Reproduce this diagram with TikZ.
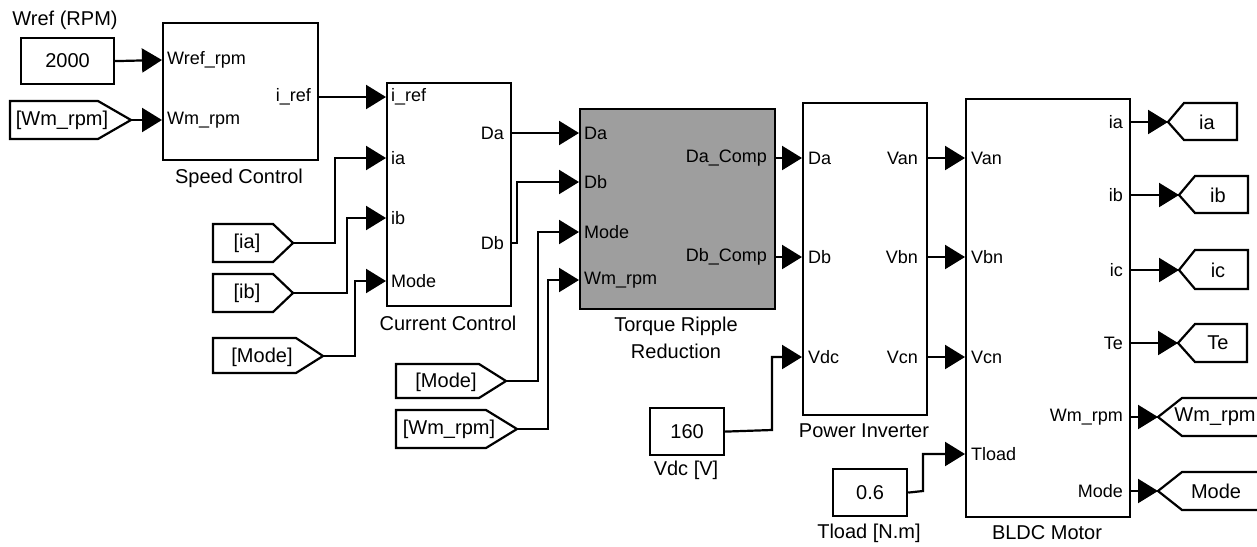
\documentclass[tikz,border=0pt]{standalone}
\usepackage{fontspec}
\setmainfont{Liberation Sans}
\usetikzlibrary{arrows.meta}
\definecolor{trrgray}{RGB}{158,158,158}
\begin{document}
\begin{tikzpicture}[x=1pt,y=-1pt,
  blk/.style={draw, line width=2.2pt, inner sep=0pt, anchor=north west},
  tagshape/.style={draw, line width=2.2pt, line join=miter},
  sig/.style={line width=2.2pt, -{Triangle[length=20pt,width=24pt]}},
  plabel/.style={font=\fontsize{18}{20}\selectfont, inner sep=0pt},
  tlabel/.style={font=\fontsize{20}{22}\selectfont, inner sep=0pt},
]
\useasboundingbox (0,0) rectangle (1257,546);
\fill[white] (0,0) rectangle (1257,546);

% ---------- blocks ----------
\node[blk, minimum width=93pt, minimum height=46pt] (c2000) at (20,37) {};
\node[tlabel] at (c2000.center) {2000};
\node[tlabel] (wreflab) at (65,20) {Wref (RPM)};

\node[blk, minimum width=155pt, minimum height=137pt] (sc) at (162,22) {};
\node[tlabel] (sclab) at (239,178) {Speed Control};

\node[blk, minimum width=124pt, minimum height=223pt] (cc) at (386,82) {};
\node[tlabel] (cclab) at (448,323) {Current Control};

\node[blk, fill=trrgray, minimum width=195pt, minimum height=200pt] (trr) at (579,108) {};
\node[tlabel, align=center, font=\fontsize{20}{27}\selectfont] (trrlab) at (676,338) {Torque Ripple\\Reduction};

\node[blk, minimum width=124pt, minimum height=312pt] (pi) at (802,102) {};
\node[tlabel] (pilab) at (864,431) {Power Inverter};

\node[blk, minimum width=164pt, minimum height=418pt] (bldc) at (965,98) {};
\node[tlabel] (bldclab) at (1047,533) {BLDC Motor};

\node[blk, minimum width=74pt, minimum height=47pt] (c160) at (649,407) {};
\node[tlabel] at (c160.center) {160};
\node[tlabel] (vdclab) at (686,470) {Vdc [V]};

\node[blk, minimum width=74pt, minimum height=47pt] (c06) at (832,468) {};
\node[tlabel] at (c06.center) {0.6};
\node[tlabel] (tloadlab) at (869,533) {Tload [N.m]};

% ---------- port coordinates and labels ----------
% Speed Control
\coordinate (sc-i1) at (162,60);  \node[plabel, anchor=west] at (167,60) {Wref\_rpm};
\coordinate (sc-i2) at (162,120); \node[plabel, anchor=west] at (167,120) {Wm\_rpm};
\coordinate (sc-o1) at (317,97);  \node[plabel, anchor=east] at (311,97) {i\_ref};
% Current Control
\coordinate (cc-i1) at (386,97);  \node[plabel, anchor=west] at (391,97) {i\_ref};
\coordinate (cc-i2) at (386,158); \node[plabel, anchor=west] at (391,158) {ia};
\coordinate (cc-i3) at (386,218); \node[plabel, anchor=west] at (391,218) {ib};
\coordinate (cc-i4) at (386,281); \node[plabel, anchor=west] at (391,281) {Mode};
\coordinate (cc-o1) at (510,133); \node[plabel, anchor=east] at (504,133) {Da};
\coordinate (cc-o2) at (510,243); \node[plabel, anchor=east] at (504,243) {Db};
% Torque Ripple Reduction
\coordinate (trr-i1) at (579,133); \node[plabel, anchor=west] at (584,133) {Da};
\coordinate (trr-i2) at (579,182); \node[plabel, anchor=west] at (584,182) {Db};
\coordinate (trr-i3) at (579,232); \node[plabel, anchor=west] at (584,232) {Mode};
\coordinate (trr-i4) at (579,280); \node[plabel, anchor=west] at (584,280) {Wm\_rpm};
\coordinate (trr-o1) at (774,158); \node[plabel, anchor=east] at (767,158) {Da\_Comp};
\coordinate (trr-o2) at (774,257); \node[plabel, anchor=east] at (767,257) {Db\_Comp};
% Power Inverter
\coordinate (pi-i1) at (802,158); \node[plabel, anchor=west] at (808,158) {Da};
\coordinate (pi-i2) at (802,257); \node[plabel, anchor=west] at (808,257) {Db};
\coordinate (pi-i3) at (802,357); \node[plabel, anchor=west] at (808,357) {Vdc};
\coordinate (pi-o1) at (926,158); \node[plabel, anchor=east] at (918,158) {Van};
\coordinate (pi-o2) at (926,257); \node[plabel, anchor=east] at (918,257) {Vbn};
\coordinate (pi-o3) at (926,357); \node[plabel, anchor=east] at (918,357) {Vcn};
% BLDC Motor
\coordinate (bl-i1) at (965,158); \node[plabel, anchor=west] at (971,158) {Van};
\coordinate (bl-i2) at (965,257); \node[plabel, anchor=west] at (971,257) {Vbn};
\coordinate (bl-i3) at (965,357); \node[plabel, anchor=west] at (971,357) {Vcn};
\coordinate (bl-i4) at (965,454); \node[plabel, anchor=west] at (971,454) {Tload};
\coordinate (bl-o1) at (1129,122); \node[plabel, anchor=east] at (1123,122) {ia};
\coordinate (bl-o2) at (1129,195); \node[plabel, anchor=east] at (1123,195) {ib};
\coordinate (bl-o3) at (1129,270); \node[plabel, anchor=east] at (1123,270) {ic};
\coordinate (bl-o4) at (1129,343); \node[plabel, anchor=east] at (1123,343) {Te};
\coordinate (bl-o5) at (1129,417); \node[plabel, anchor=east] at (1123,417) {Wm\_rpm};
\coordinate (bl-o6) at (1129,491); \node[plabel, anchor=east] at (1123,491) {Mode};

% ---------- From tags (left side) ----------
\draw[tagshape] (10,101) -- (98,101) -- (131,120) -- (98,139) -- (10,139) -- cycle;
\coordinate (f-wm1) at (131,120); \node[tlabel] (f-wm1t) at (62,120) {[Wm\_rpm]};

\draw[tagshape] (213,224) -- (273,224) -- (293,243) -- (273,262) -- (213,262) -- cycle;
\coordinate (f-ia) at (293,243); \node[tlabel] (f-iat) at (247,243) {[ia]};

\draw[tagshape] (213,274) -- (273,274) -- (293,293) -- (273,312) -- (213,312) -- cycle;
\coordinate (f-ib) at (293,293); \node[tlabel] (f-ibt) at (247,293) {[ib]};

\draw[tagshape] (213,338) -- (296,338) -- (323,356) -- (296,373) -- (213,373) -- cycle;
\coordinate (f-mode1) at (323,356); \node[tlabel] (f-mode1t) at (262,357) {[Mode]};

\draw[tagshape] (396,364) -- (479,364) -- (506,381) -- (479,398) -- (396,398) -- cycle;
\coordinate (f-mode2) at (506,381); \node[tlabel] (f-mode2t) at (446,382) {[Mode]};

\draw[tagshape] (396,410) -- (486,410) -- (517,429) -- (486,448) -- (396,448) -- cycle;
\coordinate (f-wm2) at (517,429); \node[tlabel] (f-wm2t) at (449,429) {[Wm\_rpm]};

% ---------- Goto tags (right side) ----------
\draw[tagshape] (1168,122) -- (1184,103) -- (1237,103) -- (1237,140) -- (1184,140) -- cycle;
\coordinate (g-ia) at (1168,122); \node[tlabel] (g-iat) at (1207,122) {ia};

\draw[tagshape] (1179,195) -- (1195,176) -- (1248,176) -- (1248,213) -- (1195,213) -- cycle;
\coordinate (g-ib) at (1179,195); \node[tlabel] (g-ibt) at (1218,195) {ib};

\draw[tagshape] (1179,270) -- (1195,250) -- (1248,250) -- (1248,289) -- (1195,289) -- cycle;
\coordinate (g-ic) at (1179,270); \node[tlabel] (g-ict) at (1218,270) {ic};

\draw[tagshape] (1178,343) -- (1195,324) -- (1247,324) -- (1247,362) -- (1195,362) -- cycle;
\coordinate (g-te) at (1178,343); \node[tlabel] (g-tet) at (1218,343) {Te};

\draw[tagshape] (1158,417) -- (1182,398) -- (1270,398) -- (1270,436) -- (1182,436) -- cycle;
\coordinate (g-wm) at (1158,417); \node[tlabel] (g-wmt) at (1215,417) {Wm\_rpm};

\draw[tagshape] (1158,491) -- (1182,472) -- (1270,472) -- (1270,510) -- (1182,510) -- cycle;
\coordinate (g-mode) at (1158,491); \node[tlabel] (g-modet) at (1216,491) {Mode};

% ---------- connectors ----------
\draw[sig] (c2000.east) -- (sc-i1);
\draw[sig] (f-wm1) -- (sc-i2);
\draw[sig] (sc-o1) -- (cc-i1);
\draw[sig] (f-ia) -- (335,243) -- (335,158) -- (cc-i2);
\draw[sig] (f-ib) -- (347,293) -- (347,218) -- (cc-i3);
\draw[sig] (f-mode1) -- (355,356) -- (355,281) -- (cc-i4);
\draw[sig] (cc-o1) -- (trr-i1);
\draw[sig] (cc-o2) -- (517,243) -- (517,182) -- (trr-i2);
\draw[sig] (f-mode2) -- (538,381) -- (538,232) -- (trr-i3);
\draw[sig] (f-wm2) -- (548,429) -- (548,280) -- (trr-i4);
\draw[sig] (trr-o1) -- (pi-i1);
\draw[sig] (trr-o2) -- (pi-i2);
\draw[sig] (c160.east) -- (772,430) -- (772,357) -- (pi-i3);
\draw[sig] (pi-o1) -- (bl-i1);
\draw[sig] (pi-o2) -- (bl-i2);
\draw[sig] (pi-o3) -- (bl-i3);
\draw[sig] (c06.east) -- (923,491) -- (923,454) -- (bl-i4);
\draw[sig] (bl-o1) -- (g-ia);
\draw[sig] (bl-o2) -- (g-ib);
\draw[sig] (bl-o3) -- (g-ic);
\draw[sig] (bl-o4) -- (g-te);
\draw[sig] (bl-o5) -- (g-wm);
\draw[sig] (bl-o6) -- (g-mode);
\end{tikzpicture}
\end{document}
